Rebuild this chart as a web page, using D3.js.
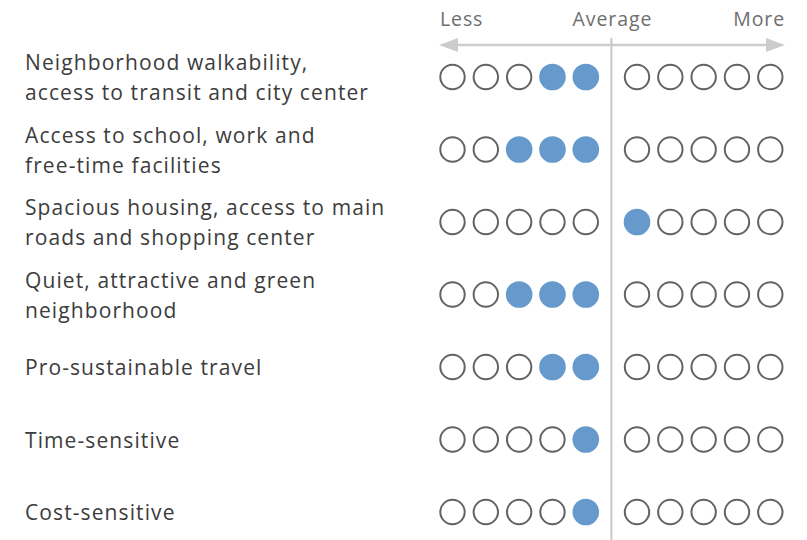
<!DOCTYPE html>
<html>
<head>
<meta charset="utf-8">
<script src="https://cdn.jsdelivr.net/npm/d3@7"></script>
<style>
  body { margin: 0; background: #fff; }
  svg { display: block; font-family: "Open Sans", Lato, sans-serif; }
</style>
</head>
<body>
<div id="chart"></div>
<script>
const categories = [
    ["Neighborhood walkability,", "access to transit and city center"],
    ["Access to school, work and", "free-time facilities"],
    ["Spacious housing, access to main", "roads and shopping center"],
    ["Quiet, attractive and green", "neighborhood"],
    ["Pro-sustainable travel"],
    ["Time-sensitive"],
    ["Cost-sensitive"]
]
// signed number of filled dots, negative = less than average
const scores = [-2, -3, 1, -3, -2, -1, -1]
const positions = [-5, -4, -3, -2, -1, 1, 2, 3, 4, 5]
const scaleLabels = ["Less", "Average", "More"]

const width = 807, height = 540

const svg = d3.select("#chart")
    .append("svg")
    .attr("width", width)
    .attr("height", height)

const x = d3.scaleLinear()
    .domain([-5, -1, 1, 5])
    .range([452.5, 585.8, 637, 770.3])

const y = d3.scalePoint()
    .domain(d3.range(categories.length))
    .range([77, 512])

const midX = (x(-1) + x(1)) / 2

// header
const header = svg.append("g").attr("fill", "#6e6e6e")
    .style("font-size", "19.5px").style("letter-spacing", "0.9px")
header.append("text").attr("x", 440).attr("y", 26).attr("text-anchor", "start").text(scaleLabels[0])
header.append("text").attr("x", midX + 1).attr("y", 26).attr("text-anchor", "middle").text(scaleLabels[1])
header.append("text").attr("x", 785).attr("y", 26).attr("text-anchor", "end").text(scaleLabels[2])

// arrow
const arrowY = 45
svg.append("line")
    .attr("x1", 450).attr("x2", 775)
    .attr("y1", arrowY).attr("y2", arrowY)
    .attr("stroke", "#cccccc").attr("stroke-width", 2.5)
svg.append("path")
    .attr("d", `M439,${arrowY}L458,${arrowY - 7}L458,${arrowY + 7}Z`)
    .attr("fill", "#cccccc")
svg.append("path")
    .attr("d", `M785,${arrowY}L766,${arrowY - 7}L766,${arrowY + 7}Z`)
    .attr("fill", "#cccccc")

// average line
svg.append("line")
    .attr("x1", midX).attr("x2", midX)
    .attr("y1", 38).attr("y2", height)
    .attr("stroke", "#c8c8c8").attr("stroke-width", 2)

// labels
const labels = svg.append("g").attr("fill", "#3c3c3c")
    .style("font-size", "21px").style("letter-spacing", "1.1px")
categories.forEach((lines, i) => {
    const t = labels.append("text").attr("x", 25)
    const first = y(i) - (lines.length - 1) * 15 + 8
    lines.forEach((line, j) => {
        t.append("tspan").attr("x", 25).attr("y", first + j * 30).text(line)
    })
})

// dots
const isFilled = function (score, p) {
    if (score < 0) return p < 0 && p >= score
    return p > 0 && p <= score
}

const rows = svg.append("g").selectAll("g")
    .data(scores)
    .join("g")
    .attr("transform", (d, i) => `translate(0,${y(i)})`)

rows.selectAll("circle")
    .data(score => positions.map(p => ({ p, filled: isFilled(score, p) })))
    .join("circle")
    .attr("cx", d => x(d.p))
    .attr("cy", 0)
    .attr("r", d => d.filled ? 13.3 : 12.2)
    .attr("fill", d => d.filled ? "#6699cc" : "none")
    .attr("stroke", d => d.filled ? "none" : "#636363")
    .attr("stroke-width", 2)
</script>
</body>
</html>
